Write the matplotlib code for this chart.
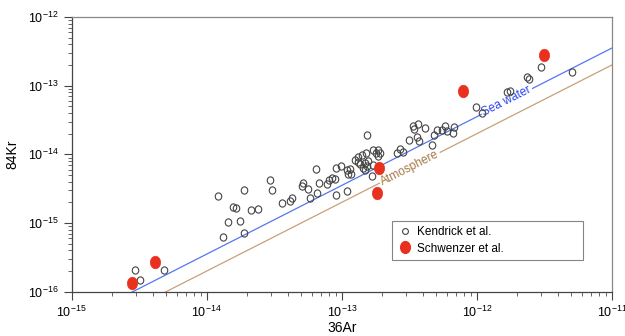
import numpy as np
import matplotlib
matplotlib.use("Agg")
import matplotlib.pyplot as plt
from matplotlib.path import Path
from matplotlib.lines import Line2D

plt.rcParams['font.family'] = ['Liberation Sans', 'DejaVu Sans']

# Kendrick et al. (36Ar, 84Kr)
kendrick_ar = [2.92e-15, 3.20e-15, 4.85e-15,
               1.22e-14, 1.31e-14, 1.44e-14, 1.57e-14, 1.66e-14, 1.77e-14, 1.88e-14, 1.88e-14,
               2.11e-14, 2.38e-14, 2.94e-14, 3.04e-14, 3.60e-14, 4.11e-14, 4.29e-14, 5.07e-14,
               5.18e-14, 5.58e-14, 5.83e-14, 6.40e-14, 6.54e-14, 6.73e-14, 7.72e-14, 8.03e-14,
               8.40e-14, 8.85e-14, 9.09e-14, 9.00e-14, 9.90e-14, 1.09e-13, 1.15e-13, 1.17e-13,
               1.11e-13, 1.09e-13, 1.25e-13, 1.32e-13, 1.40e-13, 1.50e-13, 1.31e-13, 1.36e-13,
               1.48e-13, 1.57e-13, 1.55e-13, 1.43e-13, 1.48e-13, 1.68e-13, 1.55e-13, 1.71e-13,
               1.86e-13, 1.78e-13, 1.91e-13, 1.85e-13, 2.55e-13, 2.72e-13, 2.85e-13, 3.15e-13,
               3.60e-13, 3.72e-13, 3.39e-13, 3.66e-13, 3.42e-13, 4.16e-13, 4.64e-13, 4.83e-13,
               5.03e-13, 5.55e-13, 5.82e-13, 6.05e-13, 6.76e-13, 6.70e-13, 9.84e-13, 1.09e-12,
               1.66e-12, 1.75e-12, 2.37e-12, 2.45e-12, 3.00e-12, 5.05e-12, 1.71e-13]
kendrick_kr = [2.07e-16, 1.50e-16, 2.05e-16,
               2.49e-15, 6.18e-16, 1.04e-15, 1.72e-15, 1.63e-15, 1.08e-15, 2.99e-15, 7.07e-16,
               1.54e-15, 1.58e-15, 4.17e-15, 2.99e-15, 1.97e-15, 2.09e-15, 2.28e-15, 3.48e-15,
               3.85e-15, 3.15e-15, 2.33e-15, 6.15e-15, 2.75e-15, 3.81e-15, 3.72e-15, 4.21e-15,
               4.51e-15, 4.40e-15, 2.52e-15, 6.24e-15, 6.67e-15, 5.89e-15, 6.03e-15, 5.24e-15,
               5.10e-15, 2.97e-15, 8.24e-15, 9.20e-15, 9.73e-15, 1.03e-14, 7.78e-15, 7.20e-15,
               7.38e-15, 8.04e-15, 6.73e-15, 6.24e-15, 5.89e-15, 4.90e-15, 1.92e-14, 1.15e-14,
               1.17e-14, 1.03e-14, 1.03e-14, 9.42e-15, 1.04e-14, 1.18e-14, 1.08e-14, 1.64e-14,
               1.80e-14, 1.56e-14, 2.61e-14, 2.81e-14, 2.33e-14, 2.40e-14, 1.38e-14, 1.90e-14,
               2.29e-14, 2.25e-14, 2.57e-14, 2.20e-14, 2.51e-14, 2.06e-14, 4.86e-14, 4.02e-14,
               8.11e-14, 8.30e-14, 1.34e-13, 1.24e-13, 1.85e-13, 1.58e-13, 6.97e-15]

# Schwenzer et al.
schwenzer_ar = [2.78e-15, 4.11e-15, 1.88e-13, 1.81e-13, 7.93e-13, 3.13e-12]
schwenzer_kr = [1.32e-16, 2.73e-16, 6.37e-15, 2.70e-15, 8.39e-14, 2.84e-13]

# Reference lines: 84Kr/36Ar ratios
seawater_ratio = 0.0353
atmosphere_ratio = 0.020
line_x = [1e-15, 1e-11]

fig = plt.figure(figsize=(6.25, 3.36), dpi=100)
ax = fig.add_axes([0.1147, 0.1318, 0.8643, 0.8176])
ax.set_xscale('log')
ax.set_yscale('log')
ax.set_xlim(1e-15, 1e-11)
ax.set_ylim(1e-16, 1e-12)

lx = np.array(line_x)
ax.plot(lx, lx * seawater_ratio, color='#5577ee', lw=0.9, zorder=1)
ax.plot(lx, lx * atmosphere_ratio, color='#c8a078', lw=0.9, zorder=1)

# ellipse markers
circ = Path.unit_circle()
ell = Path(circ.vertices * np.array([0.82, 1.0]), circ.codes)
circ2 = Path(circ.vertices * np.array([0.9, 1.0]), circ.codes)

ax.plot(kendrick_ar, kendrick_kr, linestyle='none', marker=circ2, ms=5.2,
        mfc='none', mec='#444444', mew=0.8, zorder=3)
ax.plot(schwenzer_ar, schwenzer_kr, linestyle='none', marker=ell, ms=9,
        mfc='#e8311f', mec='#e8311f', mew=0.5, zorder=4)

# line labels with rotation matching the line on screen
fig.canvas.draw()
def angle_for(ratio):
    p1 = ax.transData.transform((1e-14, 1e-14 * ratio))
    p2 = ax.transData.transform((1e-12, 1e-12 * ratio))
    return np.degrees(np.arctan2(p2[1] - p1[1], p2[0] - p1[0]))

sx = 1.67e-12
ax.text(sx, sx * seawater_ratio, 'Sea water', color='#2a44ee', fontsize=8.6,
        rotation=angle_for(seawater_ratio), rotation_mode='anchor', ha='center', va='center',
        bbox=dict(facecolor='white', edgecolor='none', pad=1.0), zorder=2)
axx = 3.19e-13
ax.text(axx, axx * atmosphere_ratio, 'Atmosphere', color='#a87848', fontsize=8.6,
        rotation=angle_for(atmosphere_ratio), rotation_mode='anchor', ha='center', va='center',
        bbox=dict(facecolor='white', edgecolor='none', pad=1.0), zorder=2)

for s in ['left', 'bottom']:
    ax.spines[s].set_color('#444444')
    ax.spines[s].set_linewidth(0.9)
for s in ['top', 'right']:
    ax.spines[s].set_color('#888888')
    ax.spines[s].set_linewidth(0.9)

ax.tick_params(which='major', direction='out', length=6, width=0.8, color='#444444',
               labelsize=9, top=False, right=False)
ax.tick_params(which='minor', direction='out', length=3, width=0.7, color='#666666',
               top=False, right=False)
ax.set_xlabel('36Ar', fontsize=10, labelpad=1)
ax.set_ylabel('84Kr', fontsize=10, labelpad=6)

handles = [Line2D([], [], linestyle='none', marker='o', ms=4.2, mfc='none', mec='#444444', mew=0.8),
           Line2D([], [], linestyle='none', marker=ell, ms=8.5, mfc='#e8311f', mec='#e8311f')]
leg = ax.legend(handles, ['Kendrick et al.', 'Schwenzer et al.'], loc='upper left',
                bbox_to_anchor=(0.593, 0.123, 0.353, 0.134), mode='expand',
                fontsize=8.5, frameon=True, fancybox=False,
                edgecolor='#666666', borderpad=0.45, handletextpad=0.4, labelspacing=0.35,
                handlelength=1.3, borderaxespad=0)
leg.get_frame().set_linewidth(0.8)

fig.savefig('out.png', dpi=100)
